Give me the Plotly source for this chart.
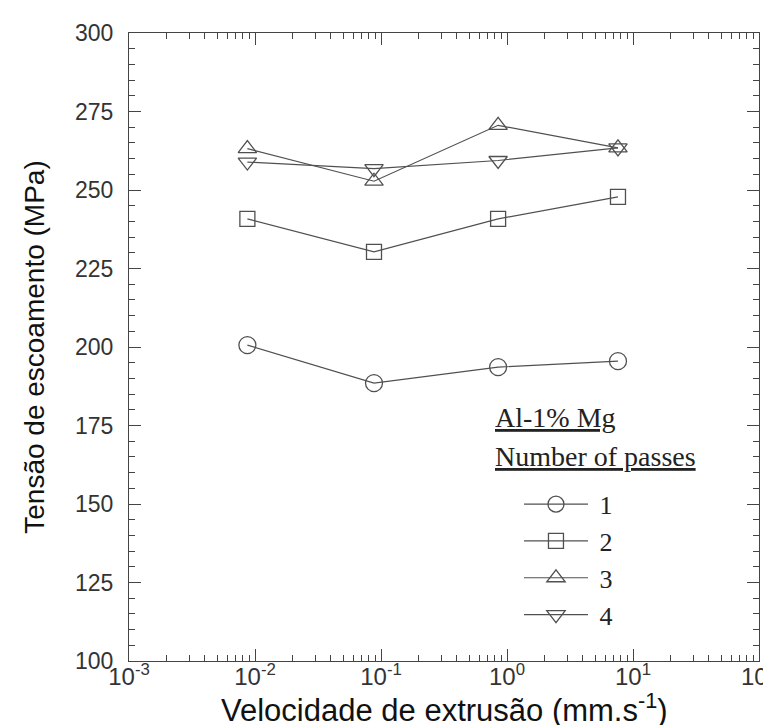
import plotly.graph_objects as go

velocity = [0.0087, 0.088, 0.85, 7.6]
passes_1 = [200.6, 188.5, 193.6, 195.5]
passes_2 = [240.8, 230.3, 240.8, 247.8]
passes_3 = [263.2, 252.8, 270.6, 263.4]
passes_4 = [258.9, 256.8, 259.4, 263.4]

series_names = ["1", "2", "3", "4"]
series_values = [passes_1, passes_2, passes_3, passes_4]
symbols = ["circle-open", "square-open", "triangle-up-open", "triangle-down-open"]
marker_sizes = [17, 15, 16, 16]

x_tickvals = [1e-3, 1e-2, 1e-1, 1e0, 1e1, 1e2]
x_ticktext = ["10<sup>-3</sup>", "10<sup>-2</sup>", "10<sup>-1</sup>", "10<sup>0</sup>", "10<sup>1</sup>", "10<sup>2</sup>"]

x_title = "Velocidade de extrusão (mm.s<sup>-1</sup>)"
y_title = "Tensão de escoamento (MPa)"

line_color = "#505050"
axis_color = "#444444"
serif = "Liberation Serif, Times New Roman, serif"

fig = go.Figure()
for name, vals, sym, ms in zip(series_names, series_values, symbols, marker_sizes):
    fig.add_trace(go.Scatter(
        x=velocity, y=vals, name="\u00a0" + name, mode="lines+markers",
        line=dict(color=line_color, width=1.2),
        marker=dict(symbol=sym, size=ms, color=line_color, line=dict(width=1.3, color=line_color)),
    ))

x_minor = [m * 10.0 ** e for e in range(-3, 2) for m in range(2, 10)]

fig.update_layout(
    template="none",
    width=771, height=725,
    margin=dict(l=121, r=20, t=25, b=72),
    plot_bgcolor="white", paper_bgcolor="white",
    font=dict(family="Liberation Sans, Arial", color="#222"),
    showlegend=True,
    legend=dict(
        x=0.619, y=0.287, xanchor="left", yanchor="top",
        font=dict(family=serif, size=26, color="#222"),
        tracegroupgap=0, itemwidth=64,
        bgcolor="rgba(0,0,0,0)",
    ),
    xaxis=dict(
        type="log", range=[-3, 2], automargin=False,
        tickmode="array", tickvals=x_tickvals, ticktext=x_ticktext,
        ticks="inside", ticklen=12, tickcolor=axis_color, tickwidth=1.2,
        showline=True, linecolor=axis_color, linewidth=1.3, mirror="ticks",
        showgrid=False, zeroline=False,
        tickfont=dict(size=24, color="#333"),
        ticklabelstandoff=-6,
        minor=dict(tickmode="array", tickvals=x_minor, ticks="inside", ticklen=6,
                   tickcolor=axis_color, tickwidth=1.1, showgrid=False),
    ),
    yaxis=dict(
        range=[100, 300], automargin=False,
        tickmode="linear", tick0=100, dtick=25,
        ticks="inside", ticklen=12, tickcolor=axis_color, tickwidth=1.2,
        showline=True, linecolor=axis_color, linewidth=1.3, mirror="ticks",
        showgrid=False, zeroline=False,
        tickfont=dict(size=23, color="#333"),
        ticklabelstandoff=10,
        minor=dict(dtick=5, ticks="inside", ticklen=6,
                   tickcolor=axis_color, tickwidth=1.1, showgrid=False),
        title=dict(text=y_title, font=dict(size=28, color="#111"), standoff=22),
    ),
)

fig.add_annotation(
    text=x_title, xref="paper", yref="paper", x=0.5, y=0, yshift=-47,
    xanchor="center", yanchor="middle", showarrow=False,
    font=dict(family="Liberation Sans, Arial", size=31, color="#111"),
)
fig.add_annotation(
    text="<u>Al-1% Mg</u>", xref="paper", yref="paper", x=0.578, y=0.387,
    xanchor="left", yanchor="middle", showarrow=False,
    font=dict(family=serif, size=28, color="#222"),
)
fig.add_annotation(
    text="<u>Number of passes</u>", xref="paper", yref="paper", x=0.578, y=0.325,
    xanchor="left", yanchor="middle", showarrow=False,
    font=dict(family=serif, size=28, color="#222"),
)

fig.write_html("out.html")
